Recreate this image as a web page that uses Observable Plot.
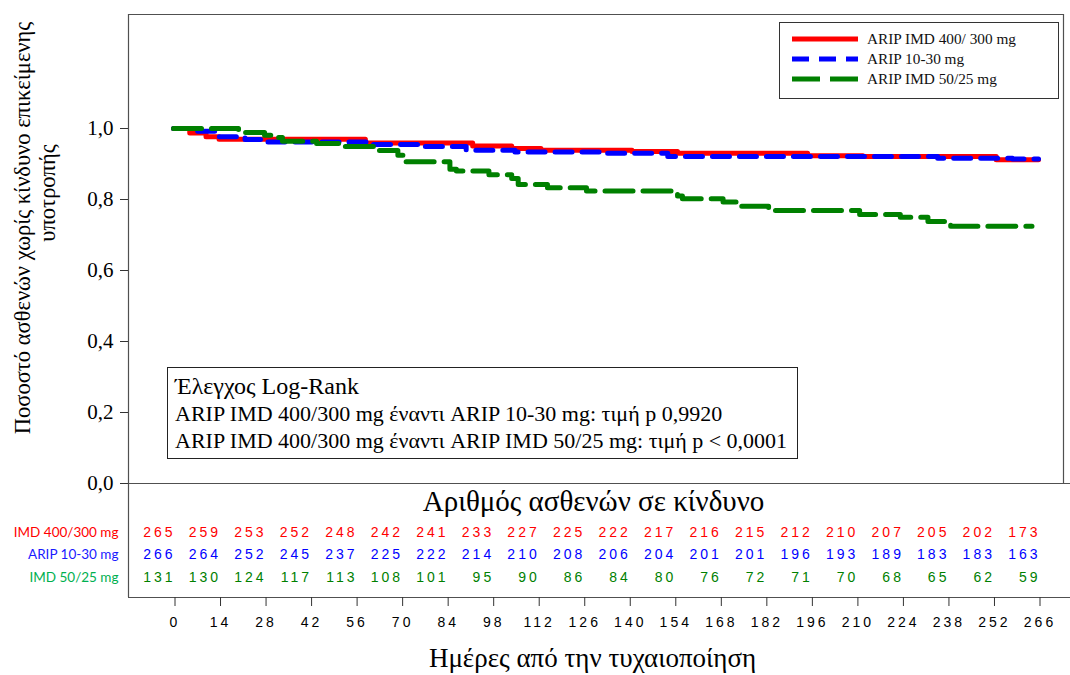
<!DOCTYPE html>
<html>
<head>
<meta charset="utf-8">
<script src="https://cdn.jsdelivr.net/npm/d3@7"></script>
<script src="https://cdn.jsdelivr.net/npm/@observablehq/plot@0.6"></script>
<style>
  body { margin: 0; background: #fff; }
  #wrap { position: relative; width: 1070px; height: 675px; overflow: hidden; background: #fff; }
  g[font-family*="Narrow"] text { letter-spacing: 3px; }
  .legend { position: absolute; left: 779px; top: 22px; width: 280px; height: 77px; box-sizing: border-box;
            border: 1px solid #333; background: #fff; font-family: "Liberation Serif", serif; font-size: 15.3px; color: #111; }
  .legend .row { position: absolute; left: 12px; height: 20px; display: flex; align-items: center; }
  .legend .row span { margin-left: 9px; }
  .logrank { position: absolute; left: 167px; top: 367px; width: 631px; height: 92px; box-sizing: border-box;
             border: 1.5px solid #222; background: #fff; font-family: "Liberation Serif", serif; color: #000; }
  .logrank div { position: absolute; left: 7px; white-space: nowrap; }
</style>
</head>
<body>
<div id="wrap"></div>
<script>
// ---------- data ----------
const days = [0, 14, 28, 42, 56, 70, 84, 98, 112, 126, 140, 154, 168, 182, 196, 210, 224, 238, 252, 266];
const yTicks = [0, 0.2, 0.4, 0.6, 0.8, 1.0];

const seriesNames = ["ARIP IMD 400/ 300 mg", "ARIP 10-30 mg", "ARIP IMD 50/25 mg"];
const rowLabels = ["IMD 400/300 mg", "ARIP 10-30 mg", "IMD 50/25 mg"];

// Kaplan-Meier step curves (time in days, survival proportion)
const redT = [0, 5, 10, 14, 59, 92, 104, 113, 141, 155, 195, 212, 253, 266];
const redS = [1.0, 0.987, 0.977, 0.970, 0.959, 0.951, 0.944, 0.939, 0.935, 0.930, 0.923, 0.921, 0.912, 0.912];

const blueT = [0, 6, 14, 22, 28, 60, 77, 90, 105, 131, 152, 235, 258, 266];
const blueS = [1.0, 0.992, 0.977, 0.969, 0.962, 0.955, 0.949, 0.939, 0.934, 0.930, 0.921, 0.916, 0.914, 0.914];

const greenT = [0, 20, 28, 31, 33.5, 44, 51, 63, 69, 71, 85, 87, 97, 104, 106, 115, 127, 155, 156.5, 169, 174, 183, 211, 223.5, 232, 239, 264];
const greenS = [1.0, 0.989, 0.981, 0.975, 0.964, 0.958, 0.949, 0.938, 0.925, 0.906, 0.885, 0.880, 0.870, 0.859, 0.842, 0.833, 0.824, 0.810, 0.802, 0.793, 0.781, 0.769, 0.758, 0.750, 0.738, 0.725, 0.725];

// Number at risk
const redN = [265, 259, 253, 252, 248, 242, 241, 233, 227, 225, 222, 217, 216, 215, 212, 210, 207, 205, 202, 173];
const blueN = [266, 264, 252, 245, 237, 225, 222, 214, 210, 208, 206, 204, 201, 201, 196, 193, 189, 183, 183, 163];
const greenN = [131, 130, 124, 117, 113, 108, 101, 95, 90, 86, 84, 80, 76, 72, 71, 70, 68, 65, 62, 59];

// ---------- layout ----------
const W = 1070, H = 675;
const mL = 128, mR = 0, mT = 14, mB = 78;
const frameRightPx = 1063;
const x0px = 173, x266px = 1038;      // pixel of day 0 and day 266
const y0px = 483, y1px = 128;         // pixel of 0.0 and 1.0
const kx = (x266px - x0px) / 266, ky = (y0px - y1px);
const xDomain = [(mL - x0px) / kx, (W - mR - x0px) / kx];
const xRight = (frameRightPx - x0px) / kx;
const yDomain = [(y0px - (H - mB)) / ky, (y0px - mT) / ky];

const colors = ["#ff0000", "#0000ff", "#008000"];
const labelColors = ["#ff0000", "#1a1aff", "#00b050"];
const narrow = "'Liberation Sans Narrow', 'Liberation Sans', sans-serif";
const serif = "'Liberation Serif', 'Times New Roman', serif";

const toRows = (T, S) => T.map((t, i) => ({t, s: S[i]}));
const toRisk = (N) => days.map((d, i) => ({t: d, n: N[i]}));
const riskSets = [toRisk(redN), toRisk(blueN), toRisk(greenN)];
const rowDy = [-61, -39, -16];
const frameStroke = {stroke: "#505050", strokeWidth: 1.2};

const chart = Plot.plot({
  width: W, height: H,
  marginLeft: mL, marginRight: mR, marginTop: mT, marginBottom: mB,
  style: {fontFamily: serif, background: "#fff", overflow: "visible"},
  x: {domain: xDomain},
  y: {domain: yDomain},
  marks: [
    // frame lines
    Plot.ruleX([xDomain[0]], frameStroke),
    Plot.ruleX([xRight], {y1: 0, y2: yDomain[1], ...frameStroke}),
    Plot.ruleY([yDomain[1]], {x1: xDomain[0], x2: xRight, ...frameStroke}),
    Plot.ruleY([0, yDomain[0]], frameStroke),
    // axes
    Plot.axisY({ticks: yTicks, tickFormat: d => d3.format(".1f")(d).replace(".", ","), tickSize: 8, tickPadding: 7,
                fontSize: 21, fontFamily: serif, label: null, stroke: "#333"}),
    Plot.axisX({ticks: days, tickSize: 9, tickPadding: 11, fontSize: 14, fontFamily: narrow, label: null, dx: 1.5, stroke: "#333"}),
    // KM curves
    Plot.line(toRows(redT, redS), {x: "t", y: "s", curve: "step-after", stroke: colors[0], strokeWidth: 5}),
    Plot.line(toRows(blueT, blueS), {x: "t", y: "s", curve: "step-after", stroke: colors[1], strokeWidth: 5, strokeDasharray: "17,10"}),
    Plot.line(toRows(greenT, greenS), {x: "t", y: "s", curve: "step-after", stroke: colors[2], strokeWidth: 5, strokeDasharray: "28,10"}),
    // risk table
    ...riskSets.map((rs, i) => Plot.text(rs, {x: "t", frameAnchor: "bottom", dy: rowDy[i], text: d => String(d.n),
        textAnchor: "end", dx: 2, fill: colors[i], fontSize: 14, fontFamily: narrow})),
    ...rowLabels.map((lab, i) => Plot.text([lab], {frameAnchor: "bottom-left", dx: -10, dy: rowDy[i], text: d => d,
        textAnchor: "end", fill: labelColors[i], fontSize: 13.5, fontFamily: "Lato, 'Open Sans', sans-serif"})),
    Plot.text(["Αριθμός ασθενών σε κίνδυνο"], {frameAnchor: "bottom", dy: -87, dx: -6, text: d => d, fontSize: 29, fontFamily: serif, fill: "#000"}),
    // axis titles
    Plot.text(["Ημέρες από την τυχαιοποίηση"], {frameAnchor: "bottom", dy: 69, dx: -7, text: d => d, fontSize: 27, fontFamily: serif, fill: "#000"}),
    Plot.text(["Ποσοστό ασθενών χωρίς κίνδυνο επικείμενης"], {frameAnchor: "left", textAnchor: "middle", dx: -106, dy: -78, rotate: -90, text: d => d, fontSize: 22.5, fontFamily: serif, fill: "#000"}),
    Plot.text(["υποτροπής"], {frameAnchor: "left", textAnchor: "middle", dx: -81, dy: -113, rotate: -90, text: d => d, fontSize: 22.5, fontFamily: serif, fill: "#000"})
  ]
});

const wrap = document.getElementById("wrap");
wrap.appendChild(chart);

// legend
const dashes = [null, "17,10", "28,10"];
const legend = document.createElement("div");
legend.className = "legend";
legend.innerHTML = seriesNames.map((n, i) =>
  `<div class="row" style="top:${6 + i * 20}px"><svg width="66" height="8"><line x1="0" x2="66" y1="4" y2="4" stroke="${colors[i]}" stroke-width="5" ${dashes[i] ? `stroke-dasharray="${dashes[i]}"` : ""}/></svg><span>${n}</span></div>`
).join("");
wrap.appendChild(legend);

// log-rank box
const logTitle = "Έλεγχος Log-Rank";
const logLines = [
  "ARIP IMD 400/300 mg έναντι ARIP 10-30 mg: τιμή p 0,9920",
  "ARIP IMD 400/300 mg έναντι ARIP IMD 50/25 mg: τιμή p < 0,0001"
];
const box = document.createElement("div");
box.className = "logrank";
const t0 = document.createElement("div");
t0.textContent = logTitle; t0.style.top = "5px"; t0.style.fontSize = "24px";
box.appendChild(t0);
logLines.forEach((l, i) => {
  const d = document.createElement("div");
  d.textContent = l; d.style.top = (33 + i * 27) + "px"; d.style.fontSize = "22px";
  box.appendChild(d);
});
wrap.appendChild(box);
</script>
</body>
</html>
